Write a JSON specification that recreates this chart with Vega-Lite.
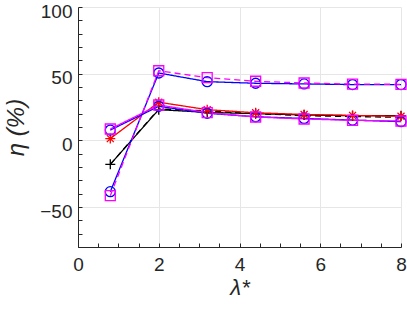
{
  "$schema": "https://vega.github.io/schema/vega-lite/v6.json",
  "width": 323,
  "height": 240,
  "autosize": {"type": "none"},
  "padding": {"left": 78, "top": 7, "right": 6, "bottom": 62},
  "background": "white",
  "config": {
    "view": {"stroke": null},
    "font": "Liberation Sans",
    "axis": {
      "domainColor": "#262626",
      "tickColor": "#262626",
      "labelColor": "#262626",
      "titleColor": "#262626",
      "labelFont": "Liberation Sans",
      "labelFontSize": 19,
      "titleFont": "Liberation Sans",
      "titleFontSize": 22,
      "titleFontWeight": "normal",
      "gridColor": "#e6e6e6",
      "tickSize": -4,
      "domainWidth": 1,
      "labelFlush": false,
      "labelOverlap": false
    }
  },
  "data": {
    "values": [
      {"s": "A", "x": 0.8, "y": -18}, {"s": "A", "x": 2, "y": 23}, {"s": "A", "x": 3.2, "y": 21}, {"s": "A", "x": 4.4, "y": 20}, {"s": "A", "x": 5.6, "y": 19}, {"s": "A", "x": 6.8, "y": 18.5}, {"s": "A", "x": 8, "y": 18.5},
      {"s": "B", "x": 0.8, "y": -18}, {"s": "B", "x": 2, "y": 23.5}, {"s": "B", "x": 3.2, "y": 22}, {"s": "B", "x": 4.4, "y": 20}, {"s": "B", "x": 5.6, "y": 18.5}, {"s": "B", "x": 6.8, "y": 17.8}, {"s": "B", "x": 8, "y": 17.3},
      {"s": "C", "x": 0.8, "y": 1.3}, {"s": "C", "x": 2, "y": 28.6}, {"s": "C", "x": 3.2, "y": 23}, {"s": "C", "x": 4.4, "y": 20.7}, {"s": "C", "x": 5.6, "y": 19.4}, {"s": "C", "x": 6.8, "y": 18.7}, {"s": "C", "x": 8, "y": 18},
      {"s": "D", "x": 0.8, "y": -38.5}, {"s": "D", "x": 2, "y": 50.5}, {"s": "D", "x": 3.2, "y": 44}, {"s": "D", "x": 4.4, "y": 42.8}, {"s": "D", "x": 5.6, "y": 42.3}, {"s": "D", "x": 6.8, "y": 41.8}, {"s": "D", "x": 8, "y": 41.8},
      {"s": "E", "x": 0.8, "y": -41.5}, {"s": "E", "x": 2, "y": 52.2}, {"s": "E", "x": 3.2, "y": 47}, {"s": "E", "x": 4.4, "y": 44.3}, {"s": "E", "x": 5.6, "y": 43}, {"s": "E", "x": 6.8, "y": 42.2}, {"s": "E", "x": 8, "y": 42},
      {"s": "F", "x": 0.8, "y": 7.7}, {"s": "F", "x": 2, "y": 25.5}, {"s": "F", "x": 3.2, "y": 20.3}, {"s": "F", "x": 4.4, "y": 17.7}, {"s": "F", "x": 5.6, "y": 16.4}, {"s": "F", "x": 6.8, "y": 15.2}, {"s": "F", "x": 8, "y": 14},
      {"s": "G", "x": 0.8, "y": 8.5}, {"s": "G", "x": 2, "y": 26.5}, {"s": "G", "x": 3.2, "y": 20.8}, {"s": "G", "x": 4.4, "y": 17.5}, {"s": "G", "x": 5.6, "y": 16}, {"s": "G", "x": 6.8, "y": 15}, {"s": "G", "x": 8, "y": 14.5}
    ]
  },
  "encoding": {
    "x": {
      "field": "x", "type": "quantitative",
      "scale": {"domain": [0, 8], "nice": false, "zero": false},
      "axis": {
        "values": [0, 0.5, 1, 1.5, 2, 2.5, 3, 3.5, 4, 4.5, 5, 5.5, 6, 6.5, 7, 7.5, 8],
        "labelExpr": "datum.value % 2 === 0 ? format(datum.value, 'd') : ''",
        "gridOpacity": {"condition": {"test": "datum.value % 2 === 0 && datum.value > 0", "value": 1}, "value": 0},
        "grid": true,
        "labelPadding": 12,
        "title": "λ*",
        "titleFontStyle": "italic",
        "titlePadding": 3
      }
    },
    "y": {
      "field": "y", "type": "quantitative",
      "scale": {"domain": [-80, 100], "nice": false, "zero": false},
      "axis": {
        "values": [-80, -70, -60, -50, -40, -30, -20, -10, 0, 10, 20, 30, 40, 50, 60, 70, 80, 90, 100],
        "labelExpr": "datum.value % 50 === 0 ? format(datum.value, 'd') : ''",
        "gridOpacity": {"condition": {"test": "datum.value % 50 === 0", "value": 1}, "value": 0},
        "grid": true,
        "labelPadding": 10,
        "labelOffset": 4,
        "title": "η (%)",
        "titleFontStyle": "italic",
        "titleFontSize": 24,
        "titlePadding": 11
      }
    }
  },
  "layer": [
    {
      "mark": {"type": "line", "strokeWidth": 1.3},
      "encoding": {
        "color": {"field": "s", "type": "nominal", "legend": null,
          "scale": {"domain": ["A", "B", "C", "D", "E", "F", "G"], "range": ["#000000", "#000000", "#ff0000", "#0000ff", "#ff00ff", "#0000ff", "#ff00ff"]}},
        "strokeDash": {"field": "s", "type": "nominal", "legend": null,
          "scale": {"domain": ["A", "B", "C", "D", "E", "F", "G"], "range": [[1, 0], [6, 4], [1, 0], [1, 0], [6, 4], [1, 0], [1, 0]]}}
      }
    },
    {
      "transform": [{"filter": "datum.s !== 'B'"}],
      "mark": {"type": "point", "filled": false, "strokeWidth": 1.3, "opacity": 1},
      "encoding": {
        "color": {"field": "s", "type": "nominal", "legend": null,
          "scale": {"domain": ["A", "B", "C", "D", "E", "F", "G"], "range": ["#000000", "#000000", "#ff0000", "#0000ff", "#ff00ff", "#0000ff", "#ff00ff"]}},
        "shape": {"field": "s", "type": "nominal", "legend": null,
          "scale": {"domain": ["A", "C", "D", "E", "F", "G"], "range": ["M-1,0H1M0,-1V1", "M-1,0H1M0,-1V1M-0.7,-0.7L0.7,0.7M-0.7,0.7L0.7,-0.7", "circle", "square", "circle", "square"]}},
        "size": {"field": "s", "type": "nominal", "legend": null,
          "scale": {"domain": ["A", "C", "D", "E", "F", "G"], "range": [100, 100, 75, 55, 75, 55]}}
      }
    }
  ]
}
